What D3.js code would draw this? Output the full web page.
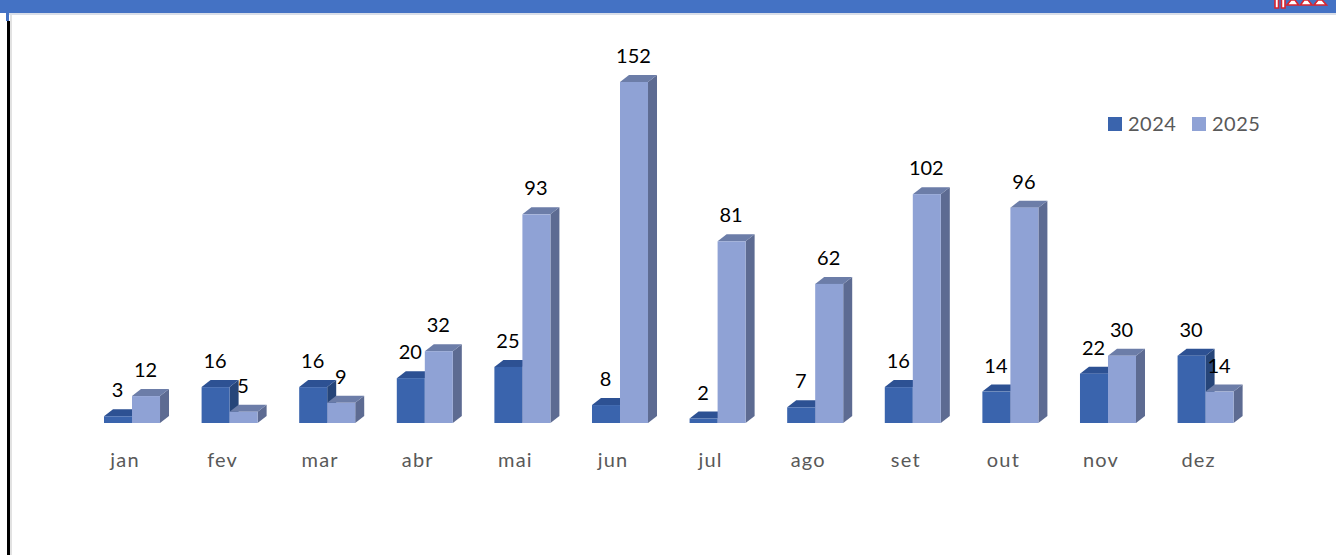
<!DOCTYPE html>
<html><head><meta charset="utf-8">
<script src="https://cdn.jsdelivr.net/npm/d3@7"></script>
<style>html,body{margin:0;padding:0;background:#fff;overflow:hidden}svg{display:block}text{font-family:Lato,Carlito,sans-serif}</style>
</head><body><svg id="c" width="1336" height="555"></svg>
<script>
const months=["jan","fev","mar","abr","mai","jun","jul","ago","set","out","nov","dez"];
const seriesNames=["2024","2025"];
const values2024=[3,16,16,20,25,8,2,7,16,14,22,30];
const values2025=[12,5,9,32,93,152,81,62,102,96,30,14];
const frontColors=["#3A64AD","#8FA2D5"];
const topColors=["#2D5193","#6C7DA8"];
const sideColors=["#264579","#5D6B92"];

const svg=d3.select("#c");
// page frame
svg.append("rect").attr("x",0).attr("y",0).attr("width",1336).attr("height",13).attr("fill","#4472C4");
svg.append("rect").attr("x",9).attr("y",13).attr("width",1327).attr("height",2).attr("fill","#D9DEE8");
svg.append("rect").attr("x",6).attr("y",13).attr("width",3).attr("height",8).attr("fill","#4472C4");
svg.append("rect").attr("x",7).attr("y",21).attr("width",3).attr("height",534).attr("fill","#000");
svg.append("rect").attr("x",10).attr("y",15).attr("width",2).attr("height",540).attr("fill","#E2E2E2");
const icon=svg.append("g").attr("fill","#fff").attr("stroke","#D9252F").attr("stroke-width",1.6);
icon.append("path").attr("d","M1275 0V8H1278.5V0M1281.5 0V8H1285V0");
icon.append("path").attr("d","M1287 5L1291 0H1295L1298.5 5ZM1300.5 5L1304 0H1308L1312 5ZM1314 5L1318 0H1322L1326.5 5Z");

const baseY=423, depthX=9, depthY=7;
const x=d3.scaleBand().domain(months).range([104,1233.6]).paddingInner(0.426).paddingOuter(0);
const xs=d3.scaleBand().domain(seriesNames).range([0,x.bandwidth()]);
const y=d3.scaleLinear().domain([0,152]).range([baseY,82]);
const series=[values2024,values2025];

const rows=months.map((m,i)=>({m,vals:series.map((s,k)=>({k,name:seriesNames[k],v:s[i]}))}));
const groups=svg.selectAll("g.cat").data(rows).join("g").attr("class","cat")
  .attr("transform",d=>`translate(${x(d.m)},0)`);
const bars=groups.selectAll("g.bar").data(d=>d.vals).join("g").attr("class","bar")
  .attr("transform",d=>`translate(${xs(d.name)},0)`);
const w=xs.bandwidth();
bars.append("path").attr("fill",d=>sideColors[d.k])
  .attr("d",d=>`M${w} ${y(d.v)}l${depthX} ${-depthY}V${baseY-depthY}l${-depthX} ${depthY}Z`);
bars.append("path").attr("fill",d=>topColors[d.k])
  .attr("d",d=>`M0 ${y(d.v)}l${depthX} ${-depthY}h${w}l${-depthX} ${depthY}Z`);
bars.append("rect").attr("fill",d=>frontColors[d.k])
  .attr("x",0).attr("width",w).attr("y",d=>y(d.v)).attr("height",d=>baseY-y(d.v));

// data labels on top of all bars
const labelLayer=svg.append("g");
rows.forEach(r=>r.vals.forEach(d=>{
  labelLayer.append("text").attr("x",x(r.m)+xs(d.name)+w/2-0.5).attr("y",y(d.v)-26)
    .attr("dy","0.35em").attr("text-anchor","middle").attr("font-size",20).attr("fill","#000").text(d.v);
}));

// category axis
const axis=d3.axisBottom(x).tickSize(0).tickPadding(0);
const ax=svg.append("g").attr("transform","translate(0,453)").call(axis);
ax.select(".domain").remove();
ax.selectAll("text").attr("font-size",20).attr("fill","#595959").attr("font-family","Lato,Carlito,sans-serif").attr("dx",-7).attr("letter-spacing",1.2);

// legend
const lg=svg.append("g");
const legX=d3.scalePoint().domain(seriesNames).range([1108,1192]);
seriesNames.forEach((n,k)=>{
  lg.append("rect").attr("x",legX(n)).attr("y",117).attr("width",14).attr("height",14).attr("fill",frontColors[k]);
  lg.append("text").attr("x",legX(n)+20).attr("y",124).attr("dy","0.35em").attr("font-size",20).attr("letter-spacing",0.5).attr("fill","#595959").text(n);
});
</script></body></html>
